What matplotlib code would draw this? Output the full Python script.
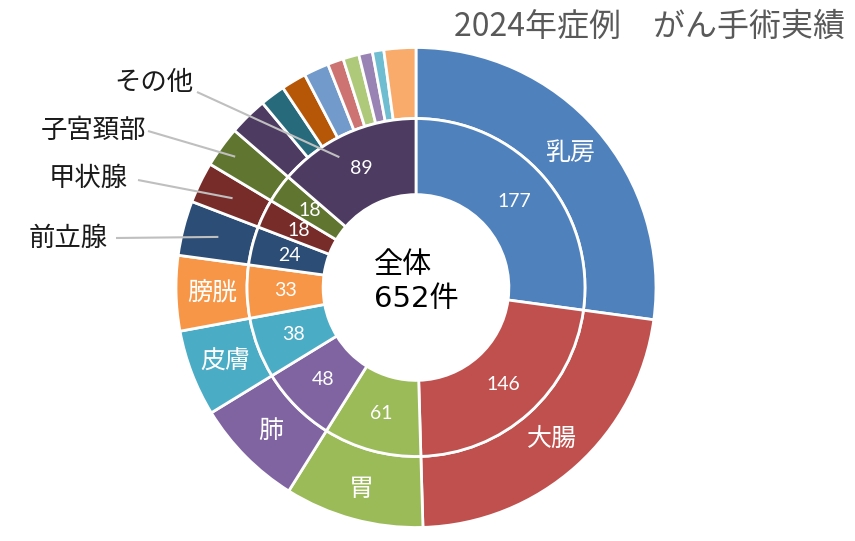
import numpy as np
import matplotlib
matplotlib.use('Agg')
import matplotlib.pyplot as plt

plt.rcParams['font.family'] = ['Noto Sans CJK JP', 'DejaVu Sans']

# Inner ring: main organ categories
inner_labels = ['乳房', '大腸', '胃', '肺', '皮膚', '膀胱', '前立腺', '甲状腺', '子宮頚部', 'その他']
inner_values = [177, 146, 61, 48, 38, 33, 24, 18, 18, 89]

# Outer ring: same organs, with その他 split into its sub-items
outer_values = [177, 146, 61, 48, 38, 33, 24, 18, 18,
                17, 11, 11, 11, 7, 7, 6, 5, 14]

palette = ['#4F81BD', '#C0504D', '#9BBB59', '#8064A2', '#4BACC6', '#F79646',
           '#2C4D75', '#772C2A', '#5F7530', '#4D3B62', '#276A7C', '#B65708',
           '#729ACA', '#CD7371', '#AFC97A', '#9983B5', '#6FBDD1', '#F9AB6B']

title = '2024年症例\u3000がん手術実績'
center_text = '全体\n652件'

W, H = 855, 541
cx, cy, R = 416, 287.5, 240   # pie centre / radius in pixels


def px(x, y):
    # pixel position -> data coordinates of the pie axes
    return (x - cx) / R, (cy - y) / R


fig = plt.figure(figsize=(W / 100, H / 100), dpi=100)
ax = fig.add_axes([(cx - R) / W, (H - cy - R) / H, 2 * R / W, 2 * R / H])

ring_out = 0.296
ring_in = 0.317
wp = dict(edgecolor='white', linewidth=2)

outer, _ = ax.pie(outer_values, radius=1.0, colors=palette, startangle=90,
                  counterclock=False, wedgeprops=dict(width=ring_out, **wp))
inner, _ = ax.pie(inner_values, radius=1.0 - ring_out, colors=palette[:10],
                  startangle=90, counterclock=False,
                  wedgeprops=dict(width=ring_in, **wp))
ax.set_xlim(-1, 1)
ax.set_ylim(-1, 1)
ax.set_aspect('equal')
ax.axis('off')


def point_on(w, r, frac=0.5):
    a = np.deg2rad(w.theta1 + (w.theta2 - w.theta1) * frac)
    return r * np.cos(a), r * np.sin(a)


# numbers on inner ring
for w, v in zip(inner, inner_values):
    x, y = point_on(w, 0.545)
    ax.text(x, y, str(v), ha='center', va='center', color='white',
            fontsize=14, family=['Lato', 'DejaVu Sans'])

# organ names inside outer ring (large slices)
for i in range(6):
    r = 0.87 if i == 2 else 0.85
    x, y = point_on(outer[i], r)
    ax.text(x, y, inner_labels[i], ha='center', va='center', color='white',
            fontsize=18)

# outside labels with leader lines
callouts = [
    # (label, wedge, radius, frac, text right (px), text y (px), line start (px))
    ('前立腺', outer[6], 0.85, 0.5, 108, 238, (116, 238)),
    ('甲状腺', outer[7], 0.85, 0.5, 128, 178, (138, 180)),
    ('子宮頚部', outer[8], 0.93, 0.5, 146, 130, (148, 131)),
    ('その他', inner[9], 0.63, 0.62, 193, 83, (197, 92)),
]
for lab, w, r, frac, tx, ty, ls in callouts:
    ex, ey = point_on(w, r, frac)
    sx, sy = px(*ls)
    ax.plot([sx, ex], [sy, ey], color='#BFBFBF', lw=1.5, clip_on=False,
            solid_capstyle='butt')
    x, y = px(tx, ty)
    ax.text(x, y, lab, ha='right', va='center', color='#1a1a1a', fontsize=19,
            clip_on=False)

ax.text(0, px(0, 282)[1], center_text, ha='center', va='center',
        multialignment='left', fontsize=21, color='black', linespacing=1.3,
        family=['DejaVu Sans', 'Noto Sans CJK JP'])

fig.text(845 / W, 1 - 27 / H, title, ha='right', va='center',
         fontsize=23, color='#595959')

fig.savefig('out.png', dpi=100)
